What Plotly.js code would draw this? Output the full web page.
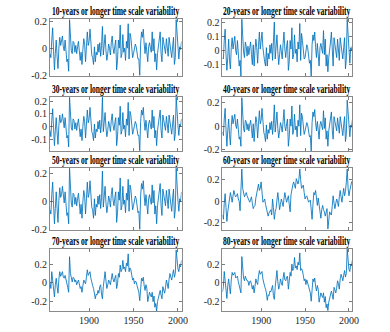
<!DOCTYPE html>
<html><head><meta charset="utf-8">
<script src="https://cdn.plot.ly/plotly-3.0.1.min.js"></script>
<style>html,body{margin:0;padding:0;background:#fff;}#chart{width:390px;height:332px;}</style>
</head><body><div id="chart"></div>
<script>
const startYear = 1856;
const v10 = [
-0.04,-0.07,0.06,0.15,-0.02,-0.16,-0.04,0.06,-0.06,-0.15,
0.00,0.08,0.02,0.05,0.09,0.01,-0.02,0.06,-0.04,-0.10,
-0.08,-0.17,0.21,0.08,-0.02,-0.04,0.05,0.04,-0.03,0.02,
-0.04,0.01,0.05,-0.02,-0.09,-0.03,-0.12,-0.01,0.07,0.03,
-0.10,0.01,0.12,0.02,0.05,0.14,0.03,-0.05,-0.07,-0.12,
0.01,-0.10,-0.03,-0.05,0.03,-0.03,0.04,-0.06,0.02,0.16,
-0.05,0.03,0.10,-0.02,-0.09,-0.04,0.03,0.00,-0.05,0.04,
0.09,0.00,-0.04,0.02,0.06,-0.16,-0.09,0.06,0.00,0.17,
-0.07,-0.04,0.10,-0.03,0.00,-0.09,0.05,0.00,0.18,-0.08,
0.11,0.08,0.01,-0.07,-0.04,-0.01,0.03,0.01,-0.04,-0.08,
-0.08,-0.20,0.03,0.12,0.08,0.14,0.03,-0.04,0.04,-0.02,
-0.10,0.01,0.04,0.00,-0.03,0.12,-0.02,0.07,-0.10,-0.04,
-0.16,-0.04,0.03,0.07,0.12,-0.04,-0.10,0.08,0.04,-0.02,
-0.04,0.07,0.01,-0.06,0.08,0.03,-0.03,-0.07,0.01,0.08,
-0.12,-0.07,0.21,0.08,0.00,-0.08,0.01,-0.01,0.05];
const v20 = [
-0.05,-0.06,0.07,0.15,-0.03,-0.14,-0.05,0.08,-0.07,-0.13,
0.02,0.09,0.01,0.06,0.10,0.00,-0.03,0.07,-0.05,-0.11,
-0.07,-0.18,0.22,0.07,-0.01,-0.05,0.06,0.03,-0.04,0.03,
-0.03,0.02,0.06,-0.03,-0.10,0.04,-0.11,0.00,0.08,0.02,
-0.09,0.03,0.13,0.01,0.06,0.13,0.02,-0.06,-0.08,-0.11,
0.02,-0.11,-0.02,-0.06,0.04,-0.02,0.05,-0.07,0.03,0.20,
-0.06,0.04,0.11,-0.01,-0.10,-0.03,0.04,-0.01,-0.06,0.05,
0.13,0.01,-0.05,0.03,0.07,-0.14,-0.08,0.07,0.01,0.16,
-0.06,-0.03,0.11,-0.02,0.01,-0.08,0.06,0.01,0.19,-0.07,
0.12,0.07,0.02,-0.06,-0.05,0.00,0.04,0.02,-0.05,-0.09,
-0.07,-0.18,0.04,0.11,0.07,0.13,0.02,-0.05,0.05,-0.01,
-0.11,0.02,0.05,0.01,-0.02,0.14,-0.03,0.08,-0.11,-0.03,
-0.15,-0.05,0.04,0.06,0.13,-0.03,-0.11,0.09,0.05,-0.01,
-0.05,0.08,0.02,-0.07,0.09,0.04,-0.02,-0.06,0.02,0.09,
-0.13,-0.06,0.22,0.07,0.01,-0.09,0.02,0.00,0.04];
const v30 = [
-0.03,-0.08,0.05,0.14,-0.01,-0.15,-0.03,0.07,-0.05,-0.14,
0.01,0.09,0.03,0.04,0.10,0.02,-0.01,0.07,-0.03,-0.09,
-0.07,-0.16,0.23,0.09,-0.01,-0.03,0.06,0.05,-0.02,0.03,
-0.03,0.02,0.06,-0.01,-0.08,-0.02,-0.11,0.00,0.08,0.04,
-0.09,0.02,0.13,0.03,0.06,0.15,0.04,-0.04,-0.06,-0.11,
0.02,-0.09,-0.02,-0.04,0.04,-0.02,0.05,-0.05,0.03,0.23,
-0.04,0.04,0.11,-0.01,-0.08,-0.03,0.04,0.01,-0.04,0.05,
0.10,0.01,-0.03,0.03,0.07,-0.15,-0.08,0.07,0.01,0.16,
-0.06,-0.03,0.11,-0.02,0.01,-0.08,0.06,0.01,0.19,-0.07,
0.12,0.09,0.02,-0.06,-0.03,0.00,0.04,0.02,-0.03,-0.07,
-0.07,-0.19,0.04,0.13,0.09,0.15,0.04,-0.03,0.05,-0.01,
-0.09,0.02,0.05,0.01,-0.02,0.13,-0.01,0.08,-0.09,-0.03,
-0.15,-0.03,0.04,0.08,0.13,-0.03,-0.09,0.09,0.05,-0.01,
-0.03,0.08,0.02,-0.05,0.09,0.04,-0.02,-0.06,0.02,0.09,
-0.11,-0.06,0.23,0.09,0.01,-0.07,0.02,0.00,0.06];
const v40 = [
-0.05,-0.08,0.06,0.15,-0.03,-0.17,-0.04,0.06,-0.07,-0.16,
0.00,0.09,0.02,0.06,0.10,0.01,-0.02,0.06,-0.05,-0.11,
-0.09,-0.17,0.24,0.08,-0.02,-0.05,0.05,0.04,-0.03,0.02,
-0.04,0.01,0.05,-0.02,-0.10,0.02,-0.13,-0.01,0.08,0.03,
-0.10,0.02,0.13,0.02,0.05,0.15,0.03,-0.05,-0.08,-0.13,
0.01,-0.11,-0.03,-0.06,0.03,-0.03,0.04,-0.07,0.02,0.18,
-0.05,0.03,0.12,-0.02,-0.10,-0.04,0.03,0.00,-0.05,0.04,
0.14,0.00,-0.04,0.02,0.06,-0.17,-0.09,0.06,0.00,0.17,
-0.07,-0.04,0.10,-0.03,0.00,-0.09,0.05,0.00,0.18,-0.08,
0.11,0.08,0.01,-0.07,-0.04,-0.01,0.03,0.01,-0.04,-0.09,
-0.08,-0.21,0.03,0.12,0.08,0.14,0.03,-0.04,0.04,-0.02,
-0.11,0.01,0.04,0.00,-0.03,0.13,-0.02,0.07,-0.11,-0.04,
-0.17,-0.04,0.03,0.07,0.12,-0.04,-0.11,0.08,0.04,-0.02,
-0.04,0.07,0.01,-0.06,0.08,0.03,-0.03,-0.08,0.01,0.08,
-0.13,-0.07,0.22,0.08,0.00,-0.09,0.01,-0.01,0.06];
const v50 = [
-0.06,-0.09,0.05,0.14,-0.02,-0.16,-0.05,0.07,-0.05,-0.15,
0.01,0.10,0.03,0.05,0.11,0.02,-0.01,0.07,-0.04,-0.10,
-0.08,-0.16,0.24,0.09,-0.01,-0.04,0.06,0.05,-0.02,0.03,
-0.03,0.02,0.06,-0.01,-0.09,-0.02,-0.12,0.00,0.08,0.04,
-0.09,0.02,0.14,0.03,0.06,0.15,0.04,-0.04,-0.06,-0.12,
0.02,-0.10,-0.02,-0.04,0.04,-0.02,0.05,-0.05,0.03,0.22,
-0.04,0.04,0.11,-0.01,-0.08,-0.03,0.04,0.01,-0.04,0.05,
0.10,0.01,-0.03,0.03,0.07,-0.15,-0.08,0.07,0.01,0.17,
-0.06,-0.03,0.11,-0.02,0.01,-0.08,0.06,0.01,0.16,-0.07,
0.12,0.09,0.02,-0.06,-0.03,0.00,0.04,0.02,-0.03,-0.08,
-0.07,-0.20,0.04,0.13,0.09,0.15,0.04,-0.03,0.05,-0.01,
-0.09,0.02,0.05,0.01,-0.02,0.12,-0.01,0.08,-0.09,-0.03,
-0.16,-0.03,0.04,0.08,0.13,-0.03,-0.10,0.09,0.05,-0.01,
-0.03,0.08,0.02,-0.05,0.09,0.04,-0.02,-0.07,0.02,0.09,
-0.12,-0.06,0.24,0.09,0.01,-0.07,0.02,0.00,0.07];
const v60 = [
-0.13,-0.17,-0.02,0.07,-0.06,-0.19,-0.10,-0.04,0.03,0.08,
0.04,-0.01,0.05,0.10,0.06,0.04,0.05,0.07,0.02,0.00,
-0.09,0.05,0.30,0.12,0.08,0.04,0.06,0.08,0.05,0.02,
0.01,-0.01,0.02,0.04,-0.02,-0.07,-0.05,-0.04,0.03,0.08,
0.12,0.16,0.10,0.12,0.18,0.08,-0.01,0.00,0.02,-0.03,
-0.07,-0.10,-0.14,-0.11,-0.10,-0.08,-0.13,0.02,-0.06,-0.17,
-0.10,-0.07,0.01,0.08,0.00,-0.08,-0.03,0.02,-0.01,-0.05,
0.02,0.08,0.03,-0.01,0.02,0.05,-0.03,-0.10,0.06,0.12,
0.15,0.18,0.15,0.12,0.21,0.18,0.16,0.20,0.30,0.20,
0.12,0.13,0.15,0.08,0.02,0.04,0.05,0.02,-0.01,0.00,
0.01,-0.08,-0.17,-0.03,0.08,0.06,0.10,0.03,-0.04,0.03,
-0.05,-0.10,-0.16,-0.08,-0.04,-0.08,-0.10,-0.14,-0.11,-0.07,
-0.26,-0.17,-0.10,-0.12,-0.13,-0.04,0.05,-0.02,-0.07,-0.02,
0.02,-0.01,-0.05,0.04,0.10,0.04,-0.01,0.06,0.12,0.05,
0.09,0.18,0.30,0.12,0.05,0.10,0.15,0.18,0.19];
const v70 = [
0.00,-0.06,0.12,0.03,-0.08,-0.15,-0.02,0.05,-0.04,-0.11,
0.04,0.12,0.07,0.09,0.12,0.06,0.05,0.08,0.02,-0.03,
-0.05,-0.10,0.28,0.10,0.04,0.01,0.06,0.05,0.01,0.03,
-0.02,0.00,0.03,-0.01,-0.06,-0.04,-0.10,-0.03,0.03,0.01,
-0.01,0.06,0.14,0.08,0.10,0.12,0.05,-0.01,-0.03,-0.06,
-0.10,-0.17,-0.12,-0.13,-0.08,-0.11,-0.04,-0.02,-0.12,-0.17,
-0.04,0.03,0.12,0.02,-0.06,-0.02,0.03,0.01,-0.02,0.04,
0.10,0.04,0.01,0.05,0.08,-0.06,-0.01,0.10,0.06,0.19,
0.12,0.14,0.24,0.15,0.17,0.12,0.21,0.18,0.31,0.12,
0.16,0.14,0.09,0.03,0.05,-0.01,0.02,0.01,-0.03,-0.06,
-0.10,-0.19,-0.02,0.05,0.02,0.06,-0.03,-0.08,-0.02,-0.06,
-0.20,-0.12,-0.10,-0.13,-0.15,-0.10,-0.20,-0.14,-0.26,-0.22,
-0.30,-0.20,-0.15,-0.12,-0.08,-0.13,-0.17,-0.04,-0.07,-0.11,
-0.05,0.03,-0.01,-0.06,0.04,0.10,0.06,0.03,0.09,0.14,
0.06,0.10,0.35,0.21,0.15,0.12,0.19,0.17,0.24];
const v80 = [
-0.10,-0.04,0.12,0.01,-0.09,-0.17,-0.03,0.04,-0.05,-0.12,
0.03,0.11,0.08,0.10,0.11,0.05,0.06,0.07,0.01,-0.04,
-0.06,-0.11,0.28,0.09,0.05,0.02,0.07,0.04,0.02,0.02,
-0.03,0.01,0.02,-0.02,-0.07,-0.03,-0.11,-0.04,0.04,0.00,
-0.02,0.07,0.13,0.09,0.11,0.12,0.04,-0.02,-0.04,-0.07,
-0.11,-0.19,-0.13,-0.14,-0.09,-0.10,-0.05,-0.03,-0.14,-0.18,
-0.05,0.04,0.13,0.01,-0.07,-0.03,0.04,0.00,-0.03,0.05,
0.11,0.03,0.02,0.06,0.07,-0.07,0.00,0.11,0.07,0.20,
0.13,0.15,0.27,0.16,0.18,0.14,0.22,0.19,0.32,0.13,
0.15,0.13,0.08,0.02,0.04,-0.02,0.03,0.00,-0.04,-0.07,
-0.11,-0.20,-0.03,0.04,0.01,0.05,-0.04,-0.09,-0.03,-0.07,
-0.21,-0.13,-0.11,-0.14,-0.16,-0.11,-0.21,-0.15,-0.27,-0.23,
-0.30,-0.21,-0.16,-0.12,-0.09,-0.13,-0.18,-0.05,-0.08,-0.11,
-0.06,0.02,-0.01,-0.07,0.04,0.09,0.06,0.02,0.08,0.13,
0.06,0.10,0.36,0.20,0.14,0.12,0.20,0.18,0.25];

const titles = [
 "10-years or longer time scale variability","20-years or longer time scale variability",
 "30-years or longer time scale variability","40-years or longer time scale variability",
 "50-years or longer time scale variability","60-years or longer time scale variability",
 "70-years or longer time scale variability","80-years or longer time scale variability"];
const xTickVals = [1900, 1950, 2000];
const xTickText = ["1900", "1950", "2000"];
const yTicks1 = [-0.2, 0, 0.2];
const yTickText1 = ["-0.2", "0", "0.2"];
const yTicks2 = [-0.1, 0, 0.1, 0.2];
const yTickText2 = ["-0.1", "0", "0.1", "0.2"];

const series = [v10, v20, v30, v40, v50, v60, v70, v80];
const yTickSets = [yTicks1, yTicks2, yTicks2, yTicks1, yTicks1, yTicks1, yTicks1, yTicks1];
const yTickTexts = [yTickText1, yTickText2, yTickText2, yTickText1, yTickText1, yTickText1, yTickText1, yTickText1];
const yRanges = [[-0.205,0.215],[-0.18,0.222],[-0.192,0.232],[-0.21,0.246],[-0.205,0.242],[-0.27,0.31],[-0.30,0.362],[-0.305,0.362]];
const xDomains = [[0.1282,0.4654],[0.5705,0.9038]];
const yDomains = [[0.7711,0.9428],[0.5452,0.7078],[0.3072,0.4940],[0.0633,0.2500]];

const data = [];
const layout = {
  width: 390, height: 332, margin: {l:0, r:0, t:0, b:0},
  paper_bgcolor: '#fff', plot_bgcolor: '#fff', showlegend: false,
  font: {family: 'Liberation Serif', size: 10, color: '#262626'},
  annotations: []
};
series.forEach((vals, i) => {
  const col = i % 2, row = Math.floor(i / 2);
  const sfx = i === 0 ? '' : String(i + 1);
  const yrs = vals.map((_, k) => startYear + k);
  data.push({x: yrs, y: vals, type: 'scatter', mode: 'lines', xaxis: 'x' + sfx, yaxis: 'y' + sfx,
    line: {color: '#0072BD', width: 0.85}, hoverinfo: 'skip'});
  layout['xaxis' + sfx] = {domain: xDomains[col], anchor: 'y' + sfx, range: [1856, 2004],
    tickmode: 'array', tickvals: xTickVals, ticktext: xTickText,
    ticks: 'inside', ticklen: 3, tickwidth: 0.7, tickcolor: '#444',
    showline: true, linecolor: '#8a8a8a', linewidth: 1, mirror: 'allticks',
    showgrid: false, zeroline: false, showticklabels: row === 3,
    tickfont: {family: 'Liberation Serif', size: 10, color: '#262626'}};
  layout['yaxis' + sfx] = {domain: yDomains[row], anchor: 'x' + sfx, range: yRanges[i],
    tickmode: 'array', tickvals: yTickSets[i], ticktext: yTickTexts[i],
    ticks: 'inside', ticklen: 3, tickwidth: 0.7, tickcolor: '#444',
    showline: true, linecolor: '#8a8a8a', linewidth: 1, mirror: 'allticks',
    showgrid: false, zeroline: false,
    tickfont: {family: 'Liberation Serif', size: 10, color: '#262626'}};
  layout.annotations.push({text: titles[i], xref: 'paper', yref: 'paper',
    x: (xDomains[col][0] + xDomains[col][1]) / 2, y: yDomains[row][1],
    xanchor: 'center', yanchor: 'bottom', yshift: 0, showarrow: false, borderpad: 0,
    font: {family: 'Liberation Serif', size: 12.5, color: '#000', weight: 'bold'}});
});

function squeeze(t, targetW, ratio) {
  const bb = t.getBBox();
  if (!bb.width) return;
  const cx = bb.x + bb.width / 2;
  const s = targetW ? targetW / bb.width : ratio;
  const prev = t.getAttribute('transform') || '';
  t.setAttribute('transform', prev + ' translate(' + cx + ',0) scale(' + s.toFixed(4) + ',1) translate(' + (-cx) + ',0)');
}

Plotly.newPlot('chart', data, layout, {staticPlot: true, displayModeBar: false}).then(() => {
  document.querySelectorAll('.annotation-text').forEach(t => squeeze(t, 128, 0));
  document.querySelectorAll('.xtick text').forEach(t => squeeze(t, 0, 0.72));
});
</script>
</body></html>
